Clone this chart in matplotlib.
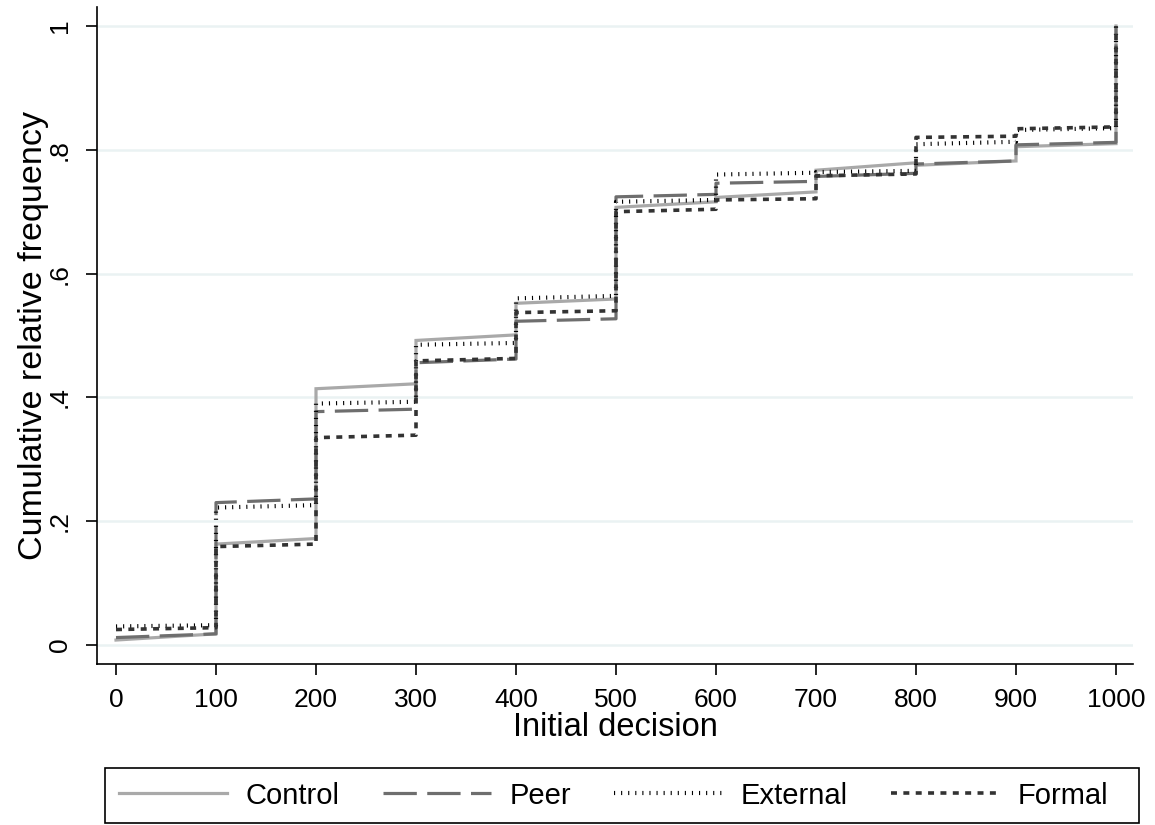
import matplotlib
matplotlib.use("Agg")
import matplotlib.pyplot as plt
from matplotlib.patches import Rectangle
import numpy as np

plt.rcParams['font.family'] = ['Liberation Sans', 'DejaVu Sans']
plt.rcParams['lines.scale_dashes'] = False

# step positions (initial decision values)
steps = [0, 100, 200, 300, 400, 500, 600, 700, 800, 900, 1000]

# level at start of each interval and just before the next step
control_start = [0.008, 0.163, 0.414, 0.492, 0.552, 0.707, 0.723, 0.767, 0.775, 0.805]
control_end   = [0.018, 0.172, 0.422, 0.501, 0.559, 0.716, 0.732, 0.779, 0.782, 0.810]
peer_start    = [0.012, 0.230, 0.377, 0.456, 0.523, 0.724, 0.746, 0.757, 0.777, 0.808]
peer_end      = [0.018, 0.236, 0.381, 0.462, 0.527, 0.728, 0.749, 0.762, 0.782, 0.812]
ext_start     = [0.030, 0.222, 0.390, 0.485, 0.560, 0.716, 0.760, 0.764, 0.809, 0.832]
ext_end       = [0.032, 0.226, 0.393, 0.488, 0.564, 0.719, 0.763, 0.766, 0.813, 0.835]
formal_start  = [0.025, 0.159, 0.335, 0.459, 0.537, 0.700, 0.719, 0.758, 0.820, 0.834]
formal_end    = [0.028, 0.163, 0.339, 0.463, 0.540, 0.704, 0.721, 0.761, 0.822, 0.837]
final_value = 1.0

labels = ["Control", "Peer", "External", "Formal"]
xticks = [0, 100, 200, 300, 400, 500, 600, 700, 800, 900, 1000]
yticks = [0, 0.2, 0.4, 0.6, 0.8, 1.0]
yticklabels = ["0", ".2", ".4", ".6", ".8", "1"]


def path(starts, ends):
    xs, ys = [], []
    for i in range(len(starts)):
        xs += [steps[i], steps[i + 1]]
        ys += [starts[i], ends[i]]
    xs.append(steps[-1])
    ys.append(final_value)
    return xs, ys


W, H = 1155, 825
AX_L, AX_R, AX_T, AX_B = 97, 1133, 7, 664
fig = plt.figure(figsize=(W / 100, H / 100), dpi=100)
ax = fig.add_axes([AX_L / W, 1 - AX_B / H, (AX_R - AX_L) / W, (AX_B - AX_T) / H])

styles = [
    dict(color="#a9a9a9", lw=2.3, ls="-"),
    dict(color="#6e6e6e", lw=2.3, ls=(0, (24, 7.5))),
    dict(color="#000000", lw=3.0, ls=(0, (0.8, 4.3)), dash_capstyle="butt"),
    dict(color="#333333", lw=2.6, ls=(0, (4.3, 4.6)), dash_capstyle="butt"),
]
series = [(control_start, control_end), (peer_start, peer_end),
          (ext_start, ext_end), (formal_start, formal_end)]

handles = []
for (s, e), st, lab in zip(series, styles, labels):
    xs, ys = path(s, e)
    h, = ax.plot(xs, ys, label=lab, solid_joinstyle="miter", **st)
    handles.append(h)

ax.set_xlim(-19, 1017)
ax.set_ylim(-0.0307, 1.0307)
ax.set_xticks(xticks)
ax.set_xticklabels([str(t) for t in xticks], fontsize=19)
ax.set_yticks(yticks)
ax.set_yticklabels(yticklabels, fontsize=19, rotation=90, va="center")
ax.tick_params(axis="both", direction="out", length=8, width=1.2, color="black")
ax.tick_params(axis="x", pad=9.5)
ax.tick_params(axis="y", pad=10)
ax.grid(axis="y", color="#eaf2f3", lw=1.8)
ax.set_axisbelow(True)
for sp in ["top", "right"]:
    ax.spines[sp].set_visible(False)
for sp in ["left", "bottom"]:
    ax.spines[sp].set_linewidth(1.2)

ax.set_xlabel("Initial decision", fontsize=23.5)
ax.xaxis.set_label_coords(0.5, (AX_B - 736) / (AX_B - AX_T))
ax.xaxis.label.set_verticalalignment("baseline")
ax.set_ylabel("Cumulative relative frequency", fontsize=24.5)
ax.yaxis.set_label_coords((42 - AX_L) / (AX_R - AX_L), 0.5)
ax.yaxis.label.set_verticalalignment("baseline")

# legend box drawn as a figure rectangle, entries placed inside
box_l, box_r, box_t, box_b = 105, 1139, 768, 823
fig.patches.append(Rectangle((box_l / W, 1 - box_b / H), (box_r - box_l) / W,
                             (box_b - box_t) / H, transform=fig.transFigure,
                             fill=False, edgecolor="black", lw=1.2))
leg = fig.legend(handles=handles, labels=labels, loc="center",
                 bbox_to_anchor=(box_l / W, 1 - box_b / H, (1122 - box_l) / W,
                                 (box_b - box_t) / H),
                 mode="expand", ncol=4, fontsize=21, frameon=False,
                 handlelength=3.7, handletextpad=0.65,
                 columnspacing=1.3, borderaxespad=0.0, borderpad=0.48)

fig.savefig("out.png", dpi=100)
